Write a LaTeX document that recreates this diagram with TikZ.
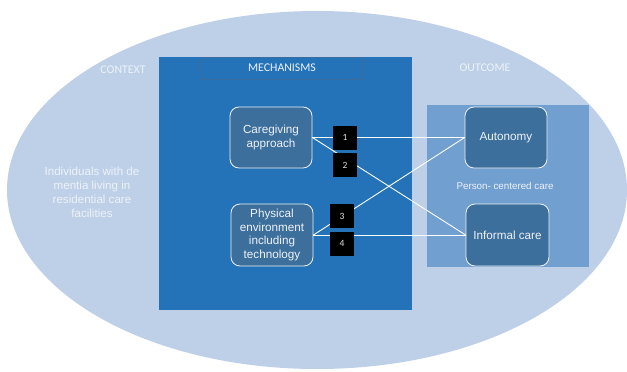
\documentclass[tikz,border=0pt]{standalone}
\usepackage{fontspec}
\setmainfont{Liberation Sans}
\newfontfamily\calfont{Carlito}
\definecolor{ellcol}{HTML}{BDD0E8}
\definecolor{mechcol}{HTML}{2473B9}
\definecolor{mechline}{HTML}{3A6C9C}
\definecolor{outcol}{HTML}{709FD0}
\definecolor{boxcol}{HTML}{3D6F9C}
\definecolor{txtcol}{HTML}{EEF2F8}
\definecolor{numcol}{HTML}{E2E2E2}
\begin{document}
\begin{tikzpicture}[x=1pt,y=-1pt,
  rbox/.style={draw=txtcol, line width=0.8pt, fill=boxcol, rounded corners=9pt, text=txtcol, align=center, inner sep=0pt, font=\fontsize{11.7}{13.8}\selectfont},
  numbox/.style={fill=black, minimum width=24pt, minimum height=24pt, inner sep=0pt, text=numcol, font=\calfont\fontsize{9.5}{10}\selectfont},
  head/.style={text=txtcol, font=\calfont\fontsize{11.8}{13}\selectfont, inner sep=0pt},
  link/.style={draw=white, line width=0.9pt}]
\useasboundingbox (0,0) rectangle (627,372);
\fill[ellcol] (317,190) ellipse [x radius=310, y radius=179];
\fill[mechcol] (159,57) rectangle (412,310);
\draw[mechline, line width=0.5pt] (201,57) rectangle (362,79);
\fill[outcol] (427,105) rectangle (589,267);
\node[head] (ctx) at (123,70) {CONTEXT};
\node[head] (mech) at (282,68) {MECHANISMS};
\node[head] (outc) at (485,68) {OUTCOME};
\node[text=txtcol, align=center, inner sep=0pt, font=\fontsize{11.6}{14}\selectfont] (indiv) at (92,192) {Individuals with de\\mentia living in\\residential care\\facilities};
\node[text=txtcol, inner sep=0pt, font=\fontsize{9.8}{11}\selectfont] (pcc) at (505,186) {Person- centered care};
\node[rbox, minimum width=82pt, minimum height=61pt] (care) at (271,137.5) {Caregiving\\approach};
\node[rbox, minimum width=82pt, minimum height=62pt] (phys) at (272,235) {Physical\\environment\\including\\technology};
\node[rbox, minimum width=82pt, minimum height=61pt] (auto) at (506,137.5) {Autonomy};
\node[rbox, minimum width=83pt, minimum height=62pt] (inf) at (507.5,235) {Informal care};
\draw[link] (care.east) -- (auto.west);
\draw[link] (care.east) -- (inf.west);
\draw[link] (phys.east) -- (auto.west);
\draw[link] (phys.east) -- (inf.west);
\node[numbox] (n1) at (345,137.5) {1};
\node[numbox] (n2) at (345,165) {2};
\node[numbox] (n3) at (342,216) {3};
\node[numbox] (n4) at (342,243.5) {4};
\end{tikzpicture}
\end{document}
